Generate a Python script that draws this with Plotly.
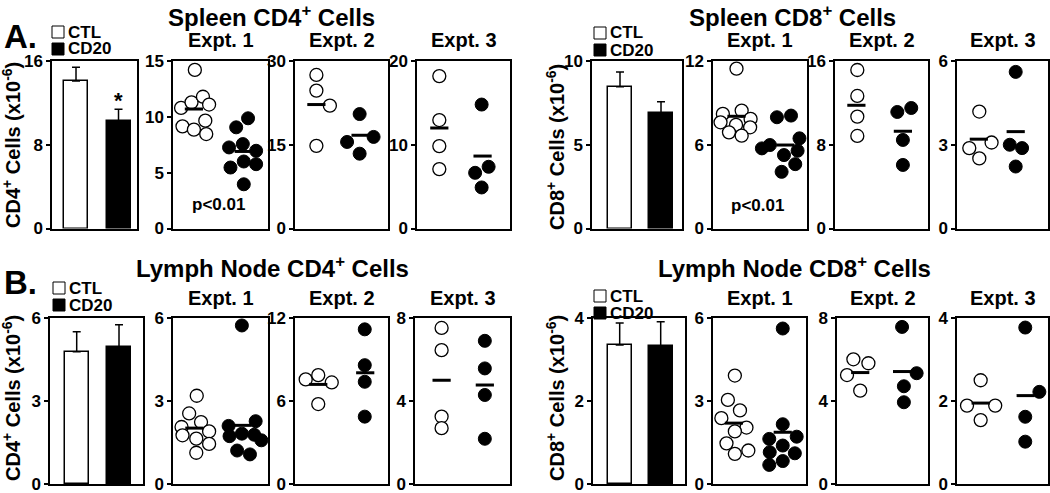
import plotly.graph_objects as go

W, H = 1050, 493
FONT = "Arial, Liberation Sans, Helvetica, sans-serif"

# ---------------- Spleen CD4+ ----------------
spl4_bar = [14.1, 10.3]
spl4_sem = [1.3, 1.1]
spl4_ticks = [0, 8, 16]
spl4_e1_ctl = [14.2, 10.8, 11.3, 11.8, 11.1, 9.15, 8.85, 9.66, 8.46]
spl4_e1_ctl_x = [-0.04, -0.33, -0.11, 0.13, 0.26, -0.30, -0.06, 0.18, 0.20]
spl4_e1_cd20 = [9.87, 9.06, 7.26, 7.56, 6.96, 5.46, 6.0, 5.76, 3.96]
spl4_e1_cd20_x = [1.08, 0.83, 0.68, 0.97, 1.25, 0.71, 0.99, 1.25, 0.99]
spl4_e1_mean = [10.7, 6.9]
spl4_e1_mean_x = [-0.06, 0.99]
spl4_e1_ticks = [0, 5, 10, 15]
spl4_e2_ctl = [27.5, 24.7, 22.0, 14.8]
spl4_e2_ctl_x = [-0.04, -0.04, 0.25, -0.04]
spl4_e2_cd20 = [20.5, 15.5, 16.4, 13.4]
spl4_e2_cd20_x = [0.89, 0.62, 1.19, 0.89]
spl4_e2_mean = [22.2, 16.7]
spl4_e2_mean_x = [-0.04, 0.91]
spl4_e2_ticks = [0, 15, 30]
spl4_e3_ctl = [18.2, 12.95, 9.84, 7.09]
spl4_e3_ctl_x = [-0.02, -0.02, -0.02, -0.02]
spl4_e3_cd20 = [14.8, 6.65, 7.37, 4.9]
spl4_e3_cd20_x = [0.89, 0.75, 1.04, 0.89]
spl4_e3_mean = [12.0, 8.65]
spl4_e3_mean_x = [-0.02, 0.91]
spl4_e3_ticks = [0, 10, 20]

# ---------------- Spleen CD8+ ----------------
spl8_bar = [8.47, 6.88]
spl8_sem = [0.87, 0.69]
spl8_ticks = [0, 5, 10]
spl8_e1_ctl = [11.45, 8.21, 8.45, 7.85, 7.61, 7.42, 7.25, 6.89, 6.65]
spl8_e1_ctl_x = [0.0, -0.29, 0.11, 0.30, -0.34, -0.01, 0.29, -0.16, 0.11]
spl8_e1_cd20 = [7.97, 8.09, 5.74, 5.98, 6.46, 5.26, 5.57, 4.61, 4.06]
spl8_e1_cd20_x = [0.86, 1.16, 0.54, 0.71, 1.34, 1.01, 1.30, 1.25, 0.96]
spl8_e1_mean = [8.04, 5.98]
spl8_e1_mean_x = [0.0, 1.04]
spl8_e1_ticks = [0, 6, 12]
spl8_e2_ctl = [15.14, 12.66, 10.69, 8.84]
spl8_e2_ctl_x = [-0.02, -0.02, -0.02, -0.02]
spl8_e2_cd20 = [11.13, 11.51, 8.46, 6.07]
spl8_e2_cd20_x = [0.84, 1.14, 0.96, 0.96]
spl8_e2_mean = [11.77, 9.29]
spl8_e2_mean_x = [-0.04, 0.96]
spl8_e2_ticks = [0, 8, 16]
spl8_e3_ctl = [4.19, 2.88, 3.08, 2.51]
spl8_e3_ctl_x = [-0.01, -0.23, 0.26, -0.01]
spl8_e3_cd20 = [5.61, 3.0, 2.88, 2.22]
spl8_e3_cd20_x = [0.79, 0.66, 0.93, 0.79]
spl8_e3_mean = [3.2, 3.47]
spl8_e3_mean_x = [-0.02, 0.79]
spl8_e3_ticks = [0, 3, 6]

# ---------------- Lymph node CD4+ ----------------
ln4_bar = [4.78, 4.96]
ln4_sem = [0.72, 0.8]
ln4_ticks = [0, 3, 6]
ln4_e1_ctl = [3.19, 2.55, 2.24, 2.06, 1.90, 1.76, 1.64, 1.45, 1.13]
ln4_e1_ctl_x = [0.0, -0.16, 0.09, -0.32, 0.26, -0.30, -0.01, 0.26, -0.01]
ln4_e1_cd20 = [5.73, 2.1, 2.27, 1.73, 1.82, 1.78, 1.58, 1.21, 1.07]
ln4_e1_cd20_x = [0.95, 0.67, 1.24, 0.69, 0.95, 1.21, 1.36, 0.85, 1.12]
ln4_e1_mean = [2.02, 2.12]
ln4_e1_mean_x = [-0.05, 0.96]
ln4_e1_ticks = [0, 3, 6]
ln4_e2_ctl = [7.56, 7.87, 7.34, 5.78]
ln4_e2_ctl_x = [-0.27, 0.0, 0.29, 0.0]
ln4_e2_cd20 = [11.18, 8.59, 7.39, 4.87]
ln4_e2_cd20_x = [1.0, 1.0, 1.0, 1.0]
ln4_e2_mean = [7.2, 8.04]
ln4_e2_mean_x = [0.0, 1.01]
ln4_e2_ticks = [0, 6, 12]
ln4_e3_ctl = [7.52, 6.45, 3.25, 2.69]
ln4_e3_ctl_x = [0.06, 0.06, 0.06, 0.06]
ln4_e3_cd20 = [6.9, 5.57, 4.29, 2.18]
ln4_e3_cd20_x = [0.97, 0.97, 0.97, 0.97]
ln4_e3_mean = [5.0, 4.77]
ln4_e3_mean_x = [0.06, 0.97]
ln4_e3_ticks = [0, 4, 8]

# ---------------- Lymph node CD8+ ----------------
ln8_bar = [3.35, 3.33]
ln8_sem = [0.53, 0.58]
ln8_ticks = [0, 2, 4]
ln8_e1_ctl = [3.92, 3.04, 2.66, 2.38, 2.04, 1.9, 1.47, 1.21, 1.09]
ln8_e1_ctl_x = [-0.03, -0.18, 0.08, -0.32, 0.22, -0.03, -0.21, 0.26, -0.03]
ln8_e1_cd20 = [5.62, 2.16, 1.63, 1.71, 1.39, 1.15, 1.11, 0.83, 0.69]
ln8_e1_cd20_x = [1.0, 1.0, 0.71, 1.30, 1.0, 0.72, 1.26, 1.0, 0.71]
ln8_e1_mean = [2.2, 1.87]
ln8_e1_mean_x = [-0.05, 1.0]
ln8_e1_ticks = [0, 3, 6]
ln8_e2_ctl = [6.01, 5.82, 5.25, 4.5]
ln8_e2_ctl_x = [-0.14, 0.19, -0.28, 0.01]
ln8_e2_cd20 = [7.57, 5.34, 4.71, 3.94]
ln8_e2_cd20_x = [0.93, 1.25, 0.97, 0.97]
ln8_e2_mean = [5.37, 5.42]
ln8_e2_mean_x = [0.01, 0.93]
ln8_e2_ticks = [0, 4, 8]
ln8_e3_ctl = [2.5, 1.89, 1.89, 1.54]
ln8_e3_ctl_x = [0.02, -0.28, 0.34, 0.02]
ln8_e3_cd20 = [3.77, 2.22, 1.62, 1.02]
ln8_e3_cd20_x = [1.0, 1.31, 1.0, 1.0]
ln8_e3_mean = [1.95, 2.13]
ln8_e3_mean_x = [0.02, 1.01]
ln8_e3_ticks = [0, 2, 4]

groups = ["CTL", "CD20"]
expts = ["Expt. 1", "Expt. 2", "Expt. 3"]

# panel boxes in pixels: (left, right, top, bottom)
ROW1 = (61, 228.5)
ROW2 = (318, 484)

bar_panels = [
    dict(box=(52, 137) + ROW1, xr=[-0.565, 1.435], bw=0.565, y=spl4_bar, e=spl4_sem, ticks=spl4_ticks),
    dict(box=(592, 682) + ROW1, xr=[-0.683, 1.512], bw=0.585, y=spl8_bar, e=spl8_sem, ticks=spl8_ticks),
    dict(box=(50, 143) + ROW2, xr=[-0.631, 1.567], bw=0.567, y=ln4_bar, e=ln4_sem, ticks=ln4_ticks),
    dict(box=(593, 685) + ROW2, xr=[-0.651, 1.593], bw=0.585, y=ln8_bar, e=ln8_sem, ticks=ln8_ticks),
]

dot_panels = [
    dict(box=(173, 268) + ROW1, ctl=(spl4_e1_ctl_x, spl4_e1_ctl), cd20=(spl4_e1_cd20_x, spl4_e1_cd20),
         mean=(spl4_e1_mean_x, spl4_e1_mean), ticks=spl4_e1_ticks),
    dict(box=(295, 388) + ROW1, ctl=(spl4_e2_ctl_x, spl4_e2_ctl), cd20=(spl4_e2_cd20_x, spl4_e2_cd20),
         mean=(spl4_e2_mean_x, spl4_e2_mean), ticks=spl4_e2_ticks),
    dict(box=(417, 510) + ROW1, ctl=(spl4_e3_ctl_x, spl4_e3_ctl), cd20=(spl4_e3_cd20_x, spl4_e3_cd20),
         mean=(spl4_e3_mean_x, spl4_e3_mean), ticks=spl4_e3_ticks),
    dict(box=(713, 807) + ROW1, ctl=(spl8_e1_ctl_x, spl8_e1_ctl), cd20=(spl8_e1_cd20_x, spl8_e1_cd20),
         mean=(spl8_e1_mean_x, spl8_e1_mean), ticks=spl8_e1_ticks),
    dict(box=(835, 928) + ROW1, ctl=(spl8_e2_ctl_x, spl8_e2_ctl), cd20=(spl8_e2_cd20_x, spl8_e2_cd20),
         mean=(spl8_e2_mean_x, spl8_e2_mean), ticks=spl8_e2_ticks),
    dict(box=(957, 1048) + ROW1, ctl=(spl8_e3_ctl_x, spl8_e3_ctl), cd20=(spl8_e3_cd20_x, spl8_e3_cd20),
         mean=(spl8_e3_mean_x, spl8_e3_mean), ticks=spl8_e3_ticks),
    dict(box=(173, 268) + ROW2, ctl=(ln4_e1_ctl_x, ln4_e1_ctl), cd20=(ln4_e1_cd20_x, ln4_e1_cd20),
         mean=(ln4_e1_mean_x, ln4_e1_mean), ticks=ln4_e1_ticks),
    dict(box=(295, 388) + ROW2, ctl=(ln4_e2_ctl_x, ln4_e2_ctl), cd20=(ln4_e2_cd20_x, ln4_e2_cd20),
         mean=(ln4_e2_mean_x, ln4_e2_mean), ticks=ln4_e2_ticks),
    dict(box=(415, 510) + ROW2, ctl=(ln4_e3_ctl_x, ln4_e3_ctl), cd20=(ln4_e3_cd20_x, ln4_e3_cd20),
         mean=(ln4_e3_mean_x, ln4_e3_mean), ticks=ln4_e3_ticks),
    dict(box=(713, 806) + ROW2, ctl=(ln8_e1_ctl_x, ln8_e1_ctl), cd20=(ln8_e1_cd20_x, ln8_e1_cd20),
         mean=(ln8_e1_mean_x, ln8_e1_mean), ticks=ln8_e1_ticks),
    dict(box=(837, 928) + ROW2, ctl=(ln8_e2_ctl_x, ln8_e2_ctl), cd20=(ln8_e2_cd20_x, ln8_e2_cd20),
         mean=(ln8_e2_mean_x, ln8_e2_mean), ticks=ln8_e2_ticks),
    dict(box=(957, 1048) + ROW2, ctl=(ln8_e3_ctl_x, ln8_e3_ctl), cd20=(ln8_e3_cd20_x, ln8_e3_cd20),
         mean=(ln8_e3_mean_x, ln8_e3_mean), ticks=ln8_e3_ticks),
]


def px(x):
    return x / W


def py(y):
    return 1 - y / H


fig = go.Figure()
layout = {}
annotations = []
shapes = []


def ann(text, x, y, size, xanchor="center", yanchor="middle", angle=0):
    annotations.append(dict(text=text, x=px(x), y=py(y), xref="paper", yref="paper",
                            xanchor=xanchor, yanchor=yanchor, showarrow=False, textangle=angle,
                            font=dict(family=FONT, size=size, color="black", weight="bold")))


def add_axes(i, box, xr, ticks):
    l, r, t, b = box
    layout[f"xaxis{i}"] = dict(domain=[px(l), px(r)], range=xr, anchor=f"y{i}", automargin=False,
                               showline=True, mirror=True, linecolor="black", linewidth=1.5,
                               showticklabels=False, ticks="", showgrid=False, zeroline=False)
    layout[f"yaxis{i}"] = dict(domain=[py(b), py(t)], range=[0, ticks[-1]], anchor=f"x{i}",
                               automargin=False, tickvals=ticks, ticktext=[str(v) for v in ticks],
                               ticks="outside", ticklen=4, tickwidth=1.5, tickcolor="black",
                               ticklabeloverflow="allow",
                               tickfont=dict(family=FONT, size=17, color="black", weight="bold"),
                               showline=True, mirror=True, linecolor="black", linewidth=1.5,
                               showgrid=False, zeroline=False)


n = 0
for p in bar_panels:
    n += 1
    add_axes(n, p["box"], p["xr"], p["ticks"])
    fig.add_trace(go.Bar(
        x=[0, 1], y=p["y"], width=p["bw"], xaxis=f"x{n}", yaxis=f"y{n}",
        marker=dict(color=["white", "black"], line=dict(color="black", width=1.5)),
        error_y=dict(type="data", symmetric=False, array=p["e"], arrayminus=[0, 0],
                     color="black", thickness=1.5, width=4),
        showlegend=False, hoverinfo="y"))

for p in dot_panels:
    n += 1
    add_axes(n, p["box"], [-0.5, 1.5], p["ticks"])
    fig.add_trace(go.Scatter(
        x=p["ctl"][0], y=p["ctl"][1], mode="markers", xaxis=f"x{n}", yaxis=f"y{n}",
        marker=dict(size=13, color="white", line=dict(color="black", width=1.3)),
        cliponaxis=False, showlegend=False, name="CTL"))
    fig.add_trace(go.Scatter(
        x=p["cd20"][0], y=p["cd20"][1], mode="markers", xaxis=f"x{n}", yaxis=f"y{n}",
        marker=dict(size=13, color="black", line=dict(color="black", width=1)),
        cliponaxis=False, showlegend=False, name="CD20"))
    fig.add_trace(go.Scatter(
        x=p["mean"][0], y=p["mean"][1], mode="markers", xaxis=f"x{n}", yaxis=f"y{n}",
        marker=dict(symbol="line-ew", size=13, line=dict(color="black", width=3)),
        cliponaxis=False, showlegend=False, name="mean"))
    l, r, t, b = p["box"]
    ann(expts[(n - 5) % 3], (l + r) / 2, 40 if t < 200 else 298, 20)

# significance labels
annotations.append(dict(text="*", x=1, y=spl4_bar[1] + spl4_sem[1], xref="x1", yref="y1",
                        yanchor="bottom", showarrow=False, yshift=-6,
                        font=dict(family=FONT, size=22, color="black", weight="bold")))
for ax, ypos in [(5, 2.16), (8, 1.66)]:
    annotations.append(dict(text="p<0.01", x=0.45, y=ypos, xref=f"x{ax}", yref=f"y{ax}",
                            showarrow=False,
                            font=dict(family=FONT, size=17, color="black", weight="bold")))

# panel letters and titles
ann("A.", 2, 36, 33, xanchor="left")
ann("B.", 2, 282, 33, xanchor="left")
ann("Spleen CD4<sup>+</sup> Cells", 271, 16, 24)
ann("Spleen CD8<sup>+</sup> Cells", 792, 16, 24)
ann("Lymph Node CD4<sup>+</sup> Cells", 272, 267, 24)
ann("Lymph Node CD8<sup>+</sup> Cells", 794, 267, 24)

# y axis titles
ann("CD4<sup>+</sup> Cells (x10<sup>-6</sup>)", 11, 145, 20, angle=-90)
ann("CD8<sup>+</sup> Cells (x10<sup>-6</sup>)", 555, 147, 20, angle=-90)
ann("CD4<sup>+</sup> Cells (x10<sup>-6</sup>)", 11, 398, 20, angle=-90)
ann("CD8<sup>+</sup> Cells (x10<sup>-6</sup>)", 555, 398, 20, angle=-90)

# legends (CTL open, CD20 filled squares)
for lx, ly in [(52, 26), (594, 27), (53, 282), (594, 290)]:
    for k, (g, fill) in enumerate(zip(groups, ["white", "black"])):
        top = ly + k * 17
        shapes.append(dict(type="rect", xref="paper", yref="paper",
                           x0=px(lx), x1=px(lx + 12), y0=py(top + 12), y1=py(top),
                           line=dict(color="black", width=1), fillcolor=fill))
        ann(g, lx + 14, top + 6, 17, xanchor="left")

fig.update_layout(**layout)
fig.update_layout(width=W, height=H, margin=dict(l=0, r=0, t=0, b=0, autoexpand=False),
                  paper_bgcolor="white", plot_bgcolor="white",
                  annotations=annotations, shapes=shapes, bargap=0)
fig.write_html("out.html", config={"displayModeBar": False},
               post_script="document.body.style.margin='0px';")
